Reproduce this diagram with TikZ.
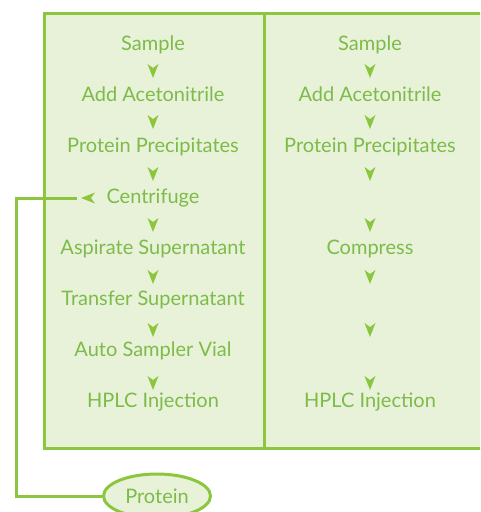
\documentclass[tikz,border=0pt]{standalone}
\usepackage{fontspec}
\setmainfont{Lato}
\usetikzlibrary{shapes.geometric}
\definecolor{gline}{HTML}{8CC63F}
\definecolor{gfill}{HTML}{E8F2D8}
\definecolor{gtext}{HTML}{7DBB4A}
\tikzset{
  lbl/.style={text=gtext,font=\fontsize{20}{24}\selectfont,inner sep=0pt,anchor=base},
  frame/.style={draw=gline,line width=3pt},
  conn/.style={draw=gline,line width=3pt},
  tipdown/.pic={\fill[gline] (-5.5,-7) -- (0,-3) -- (5.5,-7) -- (0,7) -- cycle;},
  tipleft/.pic={\fill[gline] (7,-5.5) -- (3,0) -- (7,5.5) -- (-7,0) -- cycle;}
}
\begin{document}
\begin{tikzpicture}[x=1pt,y=-1pt]
\useasboundingbox (0,0) rectangle (480,512);
\clip (0,0) rectangle (480,512);
% frame
\fill[gfill] (44,13) rectangle (495,448);
\draw[frame] (495,13) -- (44,13) -- (44,448) -- (495,448);
\draw[frame] (264,13) -- (264,448);
% left column
\node[lbl] (l1) at (153,50) {Sample};
\node[lbl] (l2) at (153,101) {Add Acetonitrile};
\node[lbl] (l3) at (153,152) {Protein Precipitates};
\node[lbl] (l4) at (153,203) {Centrifuge};
\node[lbl] (l5) at (153,254) {Aspirate Supernatant};
\node[lbl] (l6) at (153,305) {Transfer Supernatant};
\node[lbl] (l7) at (153,356) {Auto Sampler Vial};
\node[lbl] (l8) at (153,407) {HPLC Injection};
\foreach \y in {71,122,174,225,277,330,383} \pic at (153,\y) {tipdown};
% right column
\node[lbl] (r1) at (370,50) {Sample};
\node[lbl] (r2) at (370,101) {Add Acetonitrile};
\node[lbl] (r3) at (370,152) {Protein Precipitates};
\node[lbl] (r4) at (370,254) {Compress};
\node[lbl] (r5) at (370,407) {HPLC Injection};
\foreach \y in {71,122,174,225,277,330,383} \pic at (370,\y) {tipdown};
% protein branch
\pic at (88,198) {tipleft};
\coordinate (tap) at (77,198);
\node[ellipse,draw=gline,line width=3pt,fill=gfill,minimum width=107pt,minimum height=44pt,inner sep=0pt,text=gtext,font=\fontsize{20}{24}\selectfont] (prot) at (157,496) {Protein};
\draw[conn] (tap) -- ++(-61,0) |- (prot.west);
\end{tikzpicture}
\end{document}
